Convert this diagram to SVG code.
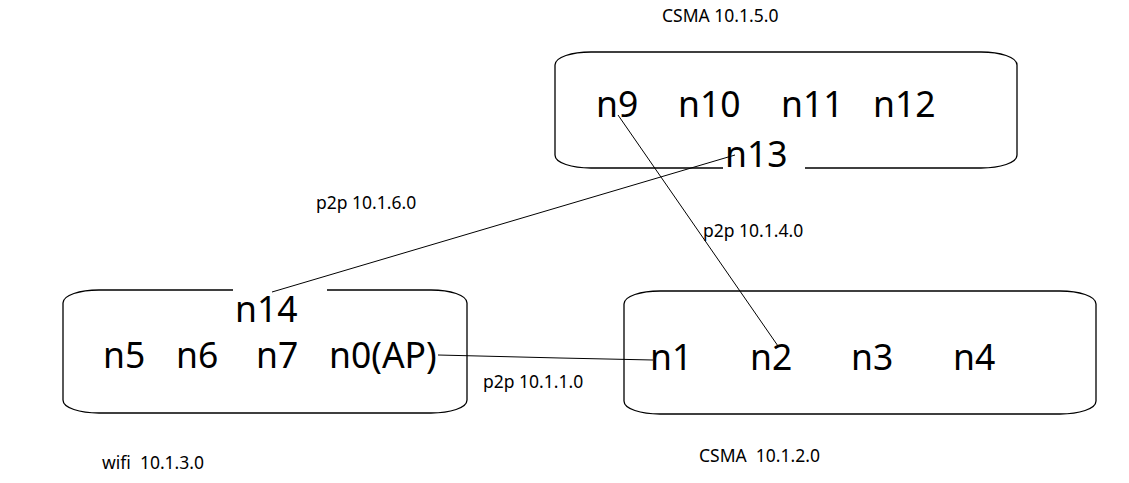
<svg xmlns="http://www.w3.org/2000/svg" width="1129" height="483" viewBox="0 0 1129 483">
<style>
.box{fill:none;stroke:#000;stroke-width:1.3}
.conn{fill:none;stroke:#000;stroke-width:1}
.big{font-family:"Noto Sans","Open Sans","DejaVu Sans",sans-serif;font-size:35.5px;fill:#000}
.lbl{font-family:"Noto Sans","Open Sans","DejaVu Sans",sans-serif;font-size:17.5px;fill:#000;white-space:pre}
</style>
<rect width="1129" height="483" fill="#fff"/>
<g id="connectors">
<line class="conn" x1="735" y1="155" x2="272" y2="292"/>
<line class="conn" x1="618" y1="115" x2="778" y2="346"/>
<polyline class="conn" points="438,355 560,358 653,360"/>
</g>
<g id="csma-10-1-5-0">
<path class="box" d="M805,168 H981 C1000,168 1017,163 1017,155 V65 C1017,57 1000,52 981,52 H591 C572,52 555,57 555,65 V155 C555,163 572,168 591,168 H723"/>
<text class="lbl" x="662" y="22">CSMA 10.1.5.0</text>
<g id="n9"><text class="big" x="596" y="117">n9</text></g>
<g id="n10"><text class="big" x="678" y="117">n10</text></g>
<g id="n11"><text class="big" x="781" y="117">n11</text></g>
<g id="n12"><text class="big" x="873" y="117">n12</text></g>
<g id="n13"><text class="big" x="725" y="167">n13</text></g>
</g>
<g id="wifi-10-1-3-0">
<path class="box" d="M327,290 H431 C450,290 467,295 467,303 V400 C467,408 450,413 431,413 H99 C80,413 63,408 63,400 V303 C63,295 80,290 99,290 H233"/>
<text class="lbl" x="102" y="469" xml:space="preserve">wifi  10.1.3.0</text>
<g id="n14"><text class="big" x="235" y="322">n14</text></g>
<g id="n5"><text class="big" x="103" y="368">n5</text></g>
<g id="n6"><text class="big" x="176" y="368">n6</text></g>
<g id="n7"><text class="big" x="256" y="368">n7</text></g>
<g id="n0"><text class="big" x="329" y="368">n0(AP)</text></g>
</g>
<g id="csma-10-1-2-0">
<path class="box" d="M660,291 H1060 C1079,291 1096,296 1096,304 V401 C1096,409 1079,414 1060,414 H660 C641,414 624,409 624,401 V304 C624,296 641,291 660,291 Z"/>
<text class="lbl" x="699" y="462" xml:space="preserve">CSMA  10.1.2.0</text>
<g id="n1"><text class="big" x="650" y="370">n1</text></g>
<g id="n2"><text class="big" x="750" y="370">n2</text></g>
<g id="n3"><text class="big" x="851" y="370">n3</text></g>
<g id="n4"><text class="big" x="953" y="370">n4</text></g>
</g>
<g id="p2p-labels">
<text class="lbl" x="316" y="209">p2p 10.1.6.0</text>
<text class="lbl" x="703" y="237">p2p 10.1.4.0</text>
<text class="lbl" x="483" y="388">p2p 10.1.1.0</text>
</g>
</svg>
